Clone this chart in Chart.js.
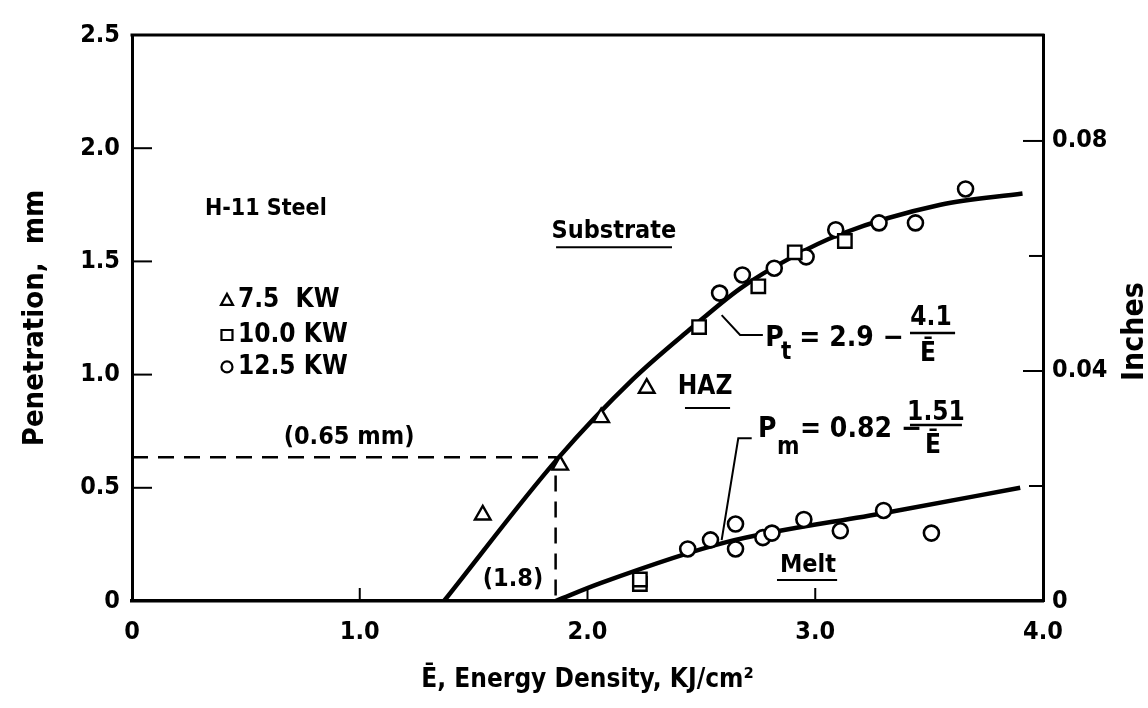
<!DOCTYPE html>
<html>
<head>
<meta charset="utf-8">
<script src="https://cdn.jsdelivr.net/npm/chart.js@4.4.0/dist/chart.umd.min.js"></script>
<style>
  body { margin: 0; background: #fff; }
</style>
</head>
<body>
<canvas id="myChart" width="1148" height="708"></canvas>
<script>
// axis ticks
var energyTicks = [0, 1, 2, 3, 4];
var mmTicks = [0, 0.5, 1, 1.5, 2, 2.5];
var inchTicks = [0, 0.02, 0.04, 0.06, 0.08];
var inchLabels = ['0', '', '0.04', '', '0.08'];

// 7.5 KW (triangles)
var kw75E = [1.54, 1.88, 2.06, 2.26];
var kw75P = [0.38, 0.60, 0.81, 0.94];
// 10.0 KW (squares)
var kw10E = [2.23, 2.23, 2.49, 2.75, 2.91, 3.13];
var kw10P = [0.075, 0.095, 1.21, 1.39, 1.54, 1.59];
// 12.5 KW (circles)
var kw125E = [2.58, 2.68, 2.82, 2.96, 3.09, 3.28, 3.44, 3.66, 2.44, 2.54, 2.65, 2.65, 2.77, 2.81, 2.95, 3.11, 3.30, 3.51];
var kw125P = [1.36, 1.44, 1.47, 1.52, 1.64, 1.67, 1.67, 1.82, 0.23, 0.27, 0.34, 0.23, 0.28, 0.30, 0.36, 0.31, 0.40, 0.30];

// fitted curves
var substrateE = [1.37, 1.87, 2.20, 2.45, 2.67, 2.90, 3.11, 3.55, 3.91];
var substrateP = [0, 0.63, 0.98, 1.20, 1.38, 1.52, 1.62, 1.75, 1.80];
var meltE = [1.86, 2.06, 2.61, 3.31, 3.90];
var meltP = [0, 0.08, 0.26, 0.39, 0.50];

// dashed guide to (1.8, 0.65 mm)
var guideE = [0, 1.86, 1.86];
var guideP = [0.635, 0.635, 0];

var FONT = '"DejaVu Sans Condensed", "DejaVu Sans", sans-serif';

function pts(xs, ys) {
  return xs.map(function (x, i) { return { x: x, y: ys[i] }; });
}

var annotate = {
  id: 'annotate',
  afterDraw: function (chart) {
    var ctx = chart.ctx, a = chart.chartArea;
    var sx = chart.scales.x, sy = chart.scales.y, s2 = chart.scales.y2;
    function X(v) { return sx.getPixelForValue(v); }
    function Y(v) { return sy.getPixelForValue(v); }
    function line(x1, y1, x2, y2) {
      ctx.beginPath(); ctx.moveTo(x1, y1); ctx.lineTo(x2, y2); ctx.stroke();
    }
    function text(str, x, y, size, align) {
      ctx.font = 'bold ' + size + 'px ' + FONT;
      ctx.textAlign = align || 'center';
      ctx.textBaseline = 'middle';
      ctx.fillText(str, x, y);
    }
    ctx.save();
    ctx.strokeStyle = '#000';
    ctx.fillStyle = '#000';
    ctx.lineCap = 'butt';

    // top of the frame
    ctx.lineWidth = 3;
    line(a.left - 1.5, a.top, a.right + 1.5, a.top);

    // inward ticks
    ctx.lineWidth = 2;
    mmTicks.forEach(function (v) {
      if (v > 0 && v < 2.5) line(a.left, Y(v), a.left + 20, Y(v));
    });
    energyTicks.forEach(function (v) {
      if (v > 0 && v < 4) line(X(v), a.bottom, X(v), a.bottom - 13);
    });
    inchTicks.forEach(function (v, i) {
      if (v > 0) {
        var py = s2.getPixelForValue(v);
        line(a.right, py, a.right - (i % 2 ? 14 : 20), py);
      }
    });

    // labels
    text('H-11 Steel', X(0.32), Y(1.73), 23, 'left');
    var legend = [['triangle', '7.5  KW', 1.33], ['rect', '10.0 KW', 1.175], ['circle', '12.5 KW', 1.034]];
    legend.forEach(function (row) {
      var mx = X(0.417), my = Y(row[2]);
      ctx.lineWidth = 2.2;
      ctx.beginPath();
      if (row[0] === 'triangle') {
        ctx.moveTo(mx, my - 6); ctx.lineTo(mx + 6, my + 5); ctx.lineTo(mx - 6, my + 5); ctx.closePath();
      } else if (row[0] === 'rect') {
        ctx.rect(mx - 5.5, my - 5, 11, 10);
      } else {
        ctx.arc(mx, my, 5.5, 0, Math.PI * 2);
      }
      ctx.stroke();
      text(row[1], X(0.465), my, 26, 'left');
    });

    text('(0.65 mm)', X(0.953), Y(0.724), 25);
    text('(1.8)', X(1.673), Y(0.093), 25);

    ctx.lineWidth = 2;
    text('Substrate', X(2.116), Y(1.63), 25);
    line(X(1.862), Y(1.563), X(2.371), Y(1.563));
    text('HAZ', X(2.516), Y(0.945), 26);
    line(X(2.428), Y(0.852), X(2.626), Y(0.852));
    text('Melt', X(2.968), Y(0.159), 25);
    line(X(2.832), Y(0.093), X(3.096), Y(0.093));

    // Pt equation with leader
    ctx.lineWidth = 2;
    ctx.beginPath();
    ctx.moveTo(X(2.589), Y(1.263)); ctx.lineTo(X(2.67), Y(1.175)); ctx.lineTo(X(2.77), Y(1.175));
    ctx.stroke();
    text('P', X(2.78), Y(1.16), 28, 'left');
    text('t', X(2.85), Y(1.095), 24, 'left');
    text('= 2.9 \u2212', X(2.93), Y(1.16), 28, 'left');
    text('4.1', X(3.508), Y(1.25), 26);
    ctx.lineWidth = 2.5;
    line(X(3.416), Y(1.184), X(3.614), Y(1.184));
    text('\u0112', X(3.495), Y(1.09), 26);

    // Pm equation with leader
    ctx.lineWidth = 2;
    ctx.beginPath();
    ctx.moveTo(X(2.589), Y(0.269)); ctx.lineTo(X(2.662), Y(0.719)); ctx.lineTo(X(2.721), Y(0.719));
    ctx.stroke();
    text('P', X(2.749), Y(0.755), 28, 'left');
    text('m', X(2.832), Y(0.676), 24, 'left');
    text('= 0.82 \u2212', X(2.933), Y(0.755), 28, 'left');
    text('1.51', X(3.530), Y(0.83), 26);
    ctx.lineWidth = 2.5;
    line(X(3.416), Y(0.777), X(3.644), Y(0.777));
    text('\u0112', X(3.517), Y(0.685), 26);

    // right axis title, reading upward
    ctx.translate(a.right + 92, Y(1.19));
    ctx.rotate(-Math.PI / 2);
    text('Inches', 0, 0, 30);
    ctx.restore();
  }
};

var tickFont = { family: FONT, size: 25, weight: 'bold' };

new Chart(document.getElementById('myChart'), {
  type: 'scatter',
  data: {
    datasets: [
      {
        label: '7.5 KW', data: pts(kw75E, kw75P),
        pointStyle: 'triangle', pointRadius: 9, borderWidth: 2.4,
        borderColor: '#000', backgroundColor: '#fff'
      },
      {
        label: '10.0 KW', data: pts(kw10E, kw10P),
        pointStyle: 'rect', pointRadius: 9.5, borderWidth: 2.4,
        borderColor: '#000', backgroundColor: '#fff'
      },
      {
        label: '12.5 KW', data: pts(kw125E, kw125P),
        pointStyle: 'circle', pointRadius: 7.5, borderWidth: 2.6,
        borderColor: '#000', backgroundColor: '#fff'
      },
      {
        label: 'Substrate', data: pts(substrateE, substrateP),
        showLine: true, pointRadius: 0, borderWidth: 4.5, borderColor: '#000',
        cubicInterpolationMode: 'monotone'
      },
      {
        label: 'Melt', data: pts(meltE, meltP),
        showLine: true, pointRadius: 0, borderWidth: 4.5, borderColor: '#000',
        cubicInterpolationMode: 'monotone'
      },
      {
        label: 'guide', data: pts(guideE, guideP),
        showLine: true, pointRadius: 0, borderWidth: 2.5, borderColor: '#000',
        borderDash: [16, 10]
      }
    ]
  },
  options: {
    responsive: false,
    animation: false,
    layout: { padding: { top: 35, left: 0, right: 0, bottom: 0 } },
    plugins: { legend: { display: false }, tooltip: { enabled: false } },
    scales: {
      x: {
        type: 'linear', min: 0, max: 4,
        afterBuildTicks: function (s) { s.ticks = energyTicks.map(function (v) { return { value: v }; }); },
        afterFit: function (s) { s.height = 107; },
        grid: { drawOnChartArea: false, drawTicks: false },
        border: { color: '#000', width: 3.5 },
        ticks: {
          color: '#000', font: tickFont, padding: 16, maxRotation: 0,
          callback: function (v) { return v === 0 ? '0' : v.toFixed(1); }
        },
        title: {
          display: true, text: '\u0112, Energy Density, KJ/cm\u00b2', color: '#000',
          font: { family: FONT, size: 26, weight: 'bold' }, padding: { top: 0, bottom: 12 }
        }
      },
      y: {
        type: 'linear', min: 0, max: 2.5,
        afterBuildTicks: function (s) { s.ticks = mmTicks.map(function (v) { return { value: v }; }); },
        afterFit: function (s) { s.width = 132; },
        grid: { drawOnChartArea: false, drawTicks: false },
        border: { color: '#000', width: 3 },
        ticks: {
          color: '#000', font: tickFont, padding: 12,
          callback: function (v) { return v === 0 ? '0' : v.toFixed(1); }
        },
        title: {
          display: true, text: 'Penetration,  mm', color: '#000',
          font: { family: FONT, size: 29, weight: 'bold' }, padding: { top: 18, bottom: 0 }
        }
      },
      y2: {
        type: 'linear', position: 'right', min: 0, max: 2.5 / 25.4,
        afterBuildTicks: function (s) { s.ticks = inchTicks.map(function (v) { return { value: v }; }); },
        afterFit: function (s) { s.width = 105; },
        grid: { drawOnChartArea: false, drawTicks: false },
        border: { color: '#000', width: 3 },
        ticks: {
          color: '#000', font: tickFont, padding: 9,
          callback: function (v, i) { return inchLabels[i]; }
        }
      }
    }
  },
  plugins: [annotate]
});
</script>
</body>
</html>
